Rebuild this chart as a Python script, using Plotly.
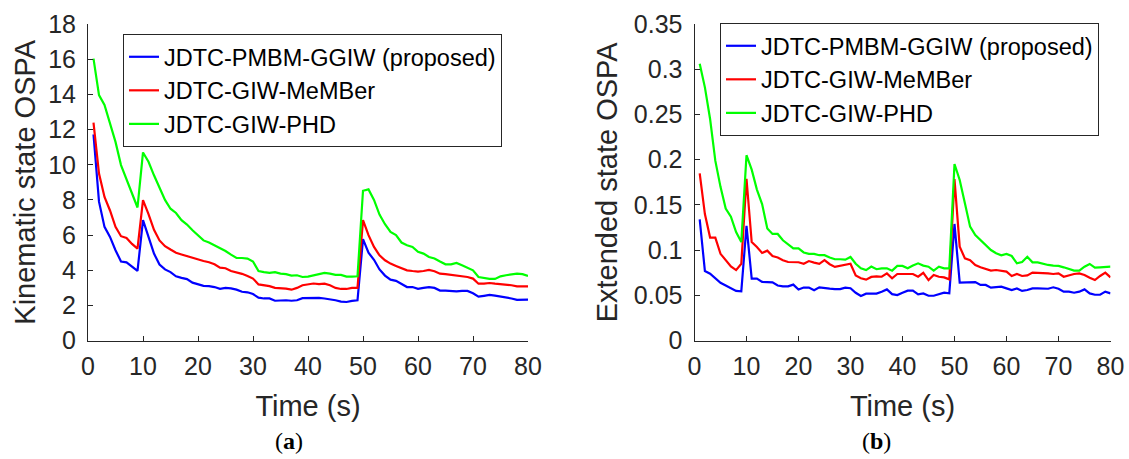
import plotly.graph_objects as go

time_s = list(range(1, 81))

kin_pmbm = [11.72, 7.9, 6.47, 5.9, 5.14, 4.5, 4.45, 4.2, 3.97, 6.85,
            5.9, 4.95, 4.33, 4.05, 3.9, 3.66, 3.57, 3.5, 3.3, 3.2,
            3.12, 3.1, 3.05, 2.95, 3.0, 2.97, 2.9, 2.78, 2.75, 2.65,
            2.45, 2.4, 2.4, 2.27, 2.3, 2.3, 2.27, 2.3, 2.42, 2.43,
            2.45, 2.43, 2.4, 2.37, 2.3, 2.22, 2.2, 2.26, 2.3, 5.77,
            5.0, 4.6, 4.05, 3.7, 3.47, 3.4, 3.2, 3.05, 3.05, 2.95,
            3.0, 3.05, 3.0, 2.85, 2.85, 2.83, 2.8, 2.83, 2.83, 2.7,
            2.5, 2.55, 2.6, 2.56, 2.52, 2.48, 2.4, 2.32, 2.33, 2.33]
kin_member = [12.4, 9.5, 8.17, 7.4, 6.47, 5.94, 5.84, 5.5, 5.23, 7.99,
              7.2, 6.3, 5.7, 5.37, 5.18, 5.0, 4.9, 4.8, 4.72, 4.6,
              4.53, 4.46, 4.34, 4.15, 4.12, 3.96, 3.9, 3.8, 3.68, 3.53,
              3.2, 3.17, 3.1, 3.0, 3.0, 2.96, 2.9, 3.0, 3.15, 3.19,
              3.25, 3.22, 3.24, 3.15, 3.0, 2.94, 2.94, 3.0, 3.0, 6.85,
              6.0, 5.33, 4.85, 4.57, 4.38, 4.25, 4.13, 4.0, 3.96, 3.93,
              3.96, 4.02, 3.95, 3.81, 3.78, 3.74, 3.66, 3.66, 3.62, 3.53,
              3.24, 3.24, 3.28, 3.24, 3.22, 3.2, 3.15, 3.09, 3.09, 3.09]
kin_phd = [16.03, 13.96, 13.4, 12.35, 11.3, 9.98, 9.2, 8.36, 7.57, 10.7,
           10.17, 9.4, 8.65, 8.0, 7.5, 7.26, 6.85, 6.6, 6.28, 6.0,
           5.7, 5.58, 5.42, 5.27, 5.1, 4.89, 4.7, 4.7, 4.67, 4.5,
           3.96, 3.9, 3.85, 3.9, 3.81, 3.78, 3.7, 3.72, 3.62, 3.64,
           3.7, 3.8, 3.85, 3.81, 3.74, 3.74, 3.64, 3.64, 3.66, 8.52,
           8.6, 8.0, 7.17, 6.62, 6.18, 6.0, 5.58, 5.42, 5.33, 5.05,
           4.95, 4.76, 4.67, 4.5, 4.34, 4.34, 4.42, 4.29, 4.15, 4.0,
           3.62, 3.57, 3.51, 3.51, 3.66, 3.72, 3.78, 3.81, 3.78, 3.68]

ext_pmbm = [0.134, 0.077, 0.074, 0.069, 0.064, 0.061, 0.058, 0.055, 0.0545, 0.127,
            0.0686, 0.0686, 0.065, 0.0645, 0.0645, 0.061, 0.060, 0.060, 0.062, 0.0565,
            0.0587, 0.0587, 0.0557, 0.059, 0.058, 0.0575, 0.057, 0.057, 0.0587, 0.058,
            0.053, 0.0494, 0.052, 0.052, 0.052, 0.0542, 0.0567, 0.0515, 0.0505, 0.053,
            0.0553, 0.0553, 0.0512, 0.0523, 0.0497, 0.0497, 0.0515, 0.053, 0.0523, 0.129,
            0.0641, 0.0641, 0.0648, 0.0648, 0.0616, 0.0616, 0.0586, 0.059, 0.0597, 0.0578,
            0.056, 0.0578, 0.055, 0.056, 0.0578, 0.0578, 0.0574, 0.0574, 0.059, 0.0574,
            0.0542, 0.0542, 0.053, 0.0542, 0.0567, 0.0523, 0.0508, 0.0508, 0.0542, 0.0523]
ext_member = [0.185, 0.140, 0.114, 0.114, 0.096, 0.089, 0.082, 0.078, 0.085, 0.179,
              0.109, 0.1035, 0.097, 0.0995, 0.0935, 0.092, 0.089, 0.087, 0.0867, 0.0867,
              0.085, 0.088, 0.0863, 0.085, 0.089, 0.0845, 0.0815, 0.0826, 0.084, 0.085,
              0.072, 0.069, 0.0675, 0.0705, 0.071, 0.0707, 0.0744, 0.069, 0.0737, 0.0737,
              0.0744, 0.0737, 0.0707, 0.075, 0.067, 0.0726, 0.0707, 0.070, 0.0678, 0.1785,
              0.1039, 0.091, 0.089, 0.0837, 0.0811, 0.0792, 0.0774, 0.0781, 0.0774, 0.0763,
              0.0715, 0.0737, 0.0715, 0.0722, 0.0752, 0.0752, 0.0752, 0.0744, 0.0737, 0.0744,
              0.0707, 0.0726, 0.0737, 0.0744, 0.0726, 0.0696, 0.067, 0.0715, 0.0752, 0.070]
ext_phd = [0.306, 0.28, 0.245, 0.199, 0.170, 0.146, 0.137, 0.120, 0.109, 0.205,
           0.189, 0.167, 0.151, 0.124, 0.118, 0.118, 0.111, 0.107, 0.102, 0.102,
           0.0975, 0.096, 0.096, 0.0945, 0.0945, 0.092, 0.090, 0.090, 0.0895, 0.0925,
           0.085, 0.080, 0.078, 0.082, 0.079, 0.080, 0.080, 0.0774, 0.0826, 0.0826,
           0.080, 0.083, 0.0855, 0.083, 0.0818, 0.0774, 0.0818, 0.080, 0.080, 0.1953,
           0.1776, 0.1518, 0.126, 0.1168, 0.1113, 0.105, 0.1002, 0.0966, 0.0944, 0.0958,
           0.0936, 0.0855, 0.087, 0.0928, 0.0866, 0.0866, 0.0848, 0.0837, 0.0829, 0.0826,
           0.0811, 0.0792, 0.0774, 0.0774, 0.0818, 0.0848, 0.0807, 0.0811, 0.0818, 0.0818]

series_names = ["JDTC-PMBM-GGIW (proposed)", "JDTC-GIW-MeMBer", "JDTC-GIW-PHD"]
series_colors = ["#0000FF", "#FF0000", "#00FF00"]

x_ticks = [0, 10, 20, 30, 40, 50, 60, 70, 80]
kin_ticks = [0, 2, 4, 6, 8, 10, 12, 14, 16, 18]
ext_ticks = [0, 0.05, 0.1, 0.15, 0.2, 0.25, 0.3, 0.35]
ext_tick_text = ["0", "0.05", "0.1", "0.15", "0.2", "0.25", "0.3", "0.35"]

W, H = 1129, 459
TXT = "#262626"
FONT = "Liberation Sans"

fig = go.Figure()
for name, col, ys in zip(series_names, series_colors, [kin_pmbm, kin_member, kin_phd]):
    fig.add_trace(go.Scatter(x=time_s, y=ys, mode="lines", name=name,
                             line=dict(color=col, width=2.2),
                             xaxis="x", yaxis="y", legend="legend"))
for name, col, ys in zip(series_names, series_colors, [ext_pmbm, ext_member, ext_phd]):
    fig.add_trace(go.Scatter(x=time_s, y=ys, mode="lines", name=name,
                             line=dict(color=col, width=2.2),
                             xaxis="x2", yaxis="y2", legend="legend2"))

axis_common = dict(showline=True, linecolor=TXT, linewidth=1, mirror=False,
                   ticks="inside", ticklen=5, tickwidth=1, tickcolor=TXT,
                   showgrid=False, zeroline=False, automargin=False,
                   tickfont=dict(family=FONT, size=25, color=TXT))
title_font = dict(family=FONT, size=29, color=TXT)
legend_common = dict(xanchor="left", yanchor="top", bgcolor="white",
                     bordercolor=TXT, borderwidth=1, tracegroupgap=0,
                     font=dict(family=FONT, size=23.5, color="black"))
caption_font = dict(family="Liberation Serif", size=24, color="black")

ydom = [1 - 340.7 / H, 1 - 24 / H]
fig.update_layout(
    width=W, height=H, autosize=False,
    margin=dict(l=0, r=0, t=0, b=0, pad=0, autoexpand=False),
    paper_bgcolor="white", plot_bgcolor="white",
    showlegend=True,
    xaxis=dict(domain=[88 / W, 528 / W], range=[0, 80], tickvals=x_ticks,
               title=dict(text="Time (s)", font=title_font, standoff=16),
               anchor="y", ticklabelstandoff=3, **axis_common),
    yaxis=dict(domain=ydom, range=[0, 18], tickvals=kin_ticks,
               title=dict(text="Kinematic state OSPA", font=title_font, standoff=4),
               anchor="x", ticklabelstandoff=6, **axis_common),
    xaxis2=dict(domain=[694.5 / W, 1110.5 / W], range=[0, 80], tickvals=x_ticks,
                title=dict(text="Time (s)", font=title_font, standoff=16),
                anchor="y2", ticklabelstandoff=3, **axis_common),
    yaxis2=dict(domain=ydom, range=[0, 0.35], tickvals=ext_ticks, ticktext=ext_tick_text,
                title=dict(text="Extended state OSPA", font=title_font, standoff=7),
                anchor="x2", ticklabelstandoff=6, **axis_common),
    legend=dict(x=123 / W, y=1 - 34 / H, **legend_common),
    legend2=dict(x=720 / W, y=1 - 23 / H, **legend_common),
    annotations=[
        dict(text="(<b>a</b>)", x=289 / W, y=1 - 441 / H, xref="paper", yref="paper",
             xanchor="center", yanchor="middle", showarrow=False, font=caption_font),
        dict(text="(<b>b</b>)", x=876 / W, y=1 - 441 / H, xref="paper", yref="paper",
             xanchor="center", yanchor="middle", showarrow=False, font=caption_font),
    ],
)

fig.write_html("out.html",
               config={"displayModeBar": False, "staticPlot": True},
               post_script="document.body.style.margin='0px';document.body.style.overflow='hidden';")
